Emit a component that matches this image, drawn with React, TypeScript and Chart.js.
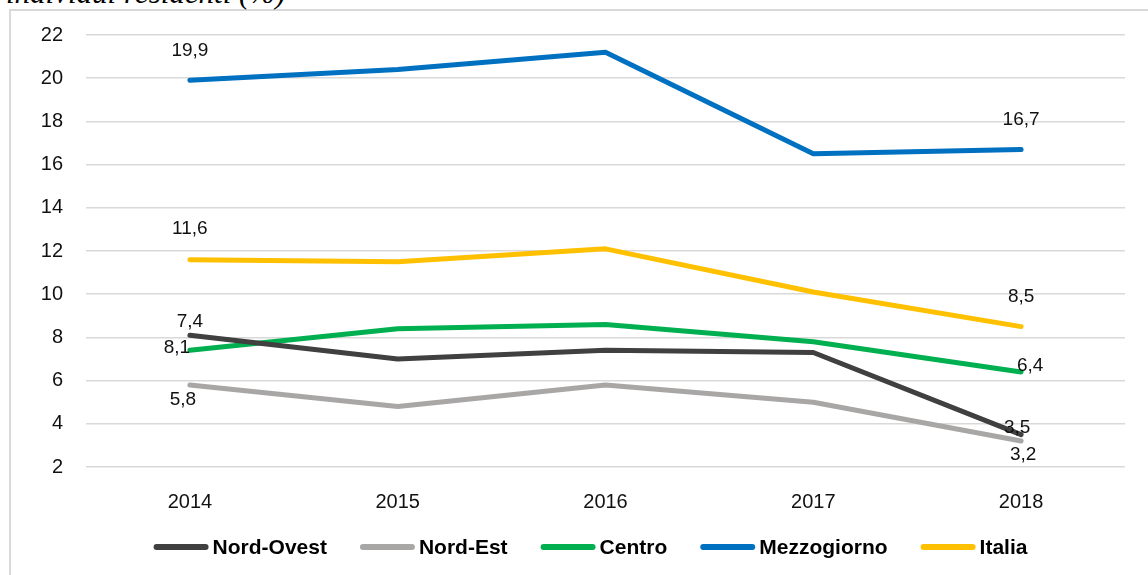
import React, { useEffect, useRef } from "react";
import { Chart, registerables } from "chart.js";

Chart.register(...registerables);

const years = ["2014", "2015", "2016", "2017", "2018"];
const nordOvest = [8.1, 7.0, 7.4, 7.3, 3.5];
const nordEst = [5.8, 4.8, 5.8, 5.0, 3.2];
const centro = [7.4, 8.4, 8.6, 7.8, 6.4];
const mezzogiorno = [19.9, 20.4, 21.2, 16.5, 16.7];
const italia = [11.6, 11.5, 12.1, 10.1, 8.5];
const yTicks = [2, 4, 6, 8, 10, 12, 14, 16, 18, 20, 22];

const seriesNames = ["Nord-Ovest", "Nord-Est", "Centro", "Mezzogiorno", "Italia"];
const seriesColors = ["#404040", "#A9A6A6", "#00B050", "#0070C0", "#FFC000"];

// label offsets (style): dataset index -> point index -> [dx, dy]
const labelOffsets: Record<number, Record<number, [number, number]>> = {
  0: { 0: [-13, 13], 4: [-4, -7] },
  1: { 0: [-7, 15], 4: [2, 14] },
  2: { 0: [0, -29], 4: [9, -6] },
  3: { 0: [0, -30], 4: [0, -30] },
  4: { 0: [0, -31], 4: [0, -30] },
};

const labelPlugin = {
  id: "valueLabels",
  afterDatasetsDraw(chart: any) {
    const ctx = chart.ctx;
    ctx.save();
    ctx.font = "19px 'Liberation Sans'";
    ctx.fillStyle = "#111";
    ctx.textAlign = "center";
    ctx.textBaseline = "middle";
    chart.data.datasets.forEach((ds: any, di: number) => {
      const meta = chart.getDatasetMeta(di);
      const offs = labelOffsets[di] || {};
      Object.keys(offs).forEach((k) => {
        const i = Number(k);
        const pt = meta.data[i];
        if (!pt) return;
        const [dx, dy] = offs[i];
        const txt = String(ds.data[i].toFixed(1)).replace(".", ",");
        ctx.fillText(txt, pt.x + dx, pt.y + dy);
      });
    });
    ctx.restore();
  },
};

const legendPlugin = {
  id: "customLegend",
  afterDraw(chart: any) {
    const ctx = chart.ctx;
    ctx.save();
    ctx.font = "bold 21px 'Liberation Sans'";
    const sw = 55;
    const gap = 4;
    const spacing = 33;
    const items = chart.data.datasets.map((ds: any) => ({
      label: ds.label,
      color: ds.borderColor,
      w: ctx.measureText(ds.label).width,
    }));
    const total =
      items.reduce((a: number, it: any) => a + sw + gap + it.w, 0) +
      spacing * (items.length - 1);
    let x = 590.5 - total / 2;
    const y = 547;
    items.forEach((it: any) => {
      ctx.strokeStyle = it.color;
      ctx.lineWidth = 6;
      ctx.lineCap = "round";
      ctx.beginPath();
      ctx.moveTo(x + 3, y);
      ctx.lineTo(x + sw - 3, y);
      ctx.stroke();
      ctx.fillStyle = "#000";
      ctx.textAlign = "left";
      ctx.textBaseline = "middle";
      ctx.fillText(it.label, x + sw + gap, y + 1);
      x += sw + gap + it.w + spacing;
    });
    ctx.restore();
  },
};

export default function App() {
  const ref = useRef<HTMLCanvasElement | null>(null);

  useEffect(() => {
    if (!ref.current) return;
    const values = [nordOvest, nordEst, centro, mezzogiorno, italia];
    const chart = new Chart(ref.current, {
      type: "line",
      data: {
        labels: years,
        datasets: values.map((v, i) => ({
          label: seriesNames[i],
          data: v,
          borderColor: seriesColors[i],
          backgroundColor: seriesColors[i],
          borderWidth: 5,
          borderCapStyle: "round",
          borderJoinStyle: "round",
          pointRadius: 0,
          tension: 0,
          fill: false,
        })),
      },
      options: {
        responsive: false,
        animation: false,
        devicePixelRatio: 1,
        layout: { padding: { left: 0, right: 23, top: 35, bottom: 48 } },
        plugins: {
          legend: { display: false },
          tooltip: { enabled: false },
          title: { display: false },
        },
        scales: {
          x: {
            offset: true,
            grid: { display: false },
            border: { display: false },
            ticks: {
              font: { family: "'Liberation Sans'", size: 20 },
              color: "#111",
              padding: 15,
            },
            afterFit: (s: any) => {
              s.height = 60;
            },
          },
          y: {
            min: 2,
            max: 22,
            afterBuildTicks: (s: any) => {
              s.ticks = yTicks.map((v) => ({ value: v }));
            },
            ticks: {
              font: { family: "'Liberation Sans'", size: 20 },
              color: "#111",
              padding: 23,
            },
            grid: { color: "#d9d9d9", lineWidth: 1.5, drawTicks: false },
            border: { display: false },
            afterFit: (s: any) => {
              s.width = 86;
            },
          },
        },
      },
      plugins: [labelPlugin, legendPlugin],
    } as any);
    return () => chart.destroy();
  }, []);

  return (
    <div
      style={{
        position: "fixed",
        left: 0,
        top: 0,
        width: 1148,
        height: 575,
        overflow: "hidden",
        background: "#fff",
      }}
    >
      <div
        style={{
          position: "absolute",
          left: 9,
          top: 9,
          width: 1300,
          height: 700,
          borderLeft: "2px solid #d9d9d9",
          borderTop: "2px solid #d9d9d9",
        }}
      />
      <div
        style={{
          position: "absolute",
          left: 6,
          top: -23,
          font: "italic 31px 'Liberation Serif'",
          lineHeight: "31px",
          whiteSpace: "nowrap",
          color: "#000",
        }}
      >
        individui residenti (%)
      </div>
      <canvas
        ref={ref}
        width={1148}
        height={575}
        style={{ position: "absolute", left: 0, top: 0, display: "block" }}
      />
    </div>
  );
}
